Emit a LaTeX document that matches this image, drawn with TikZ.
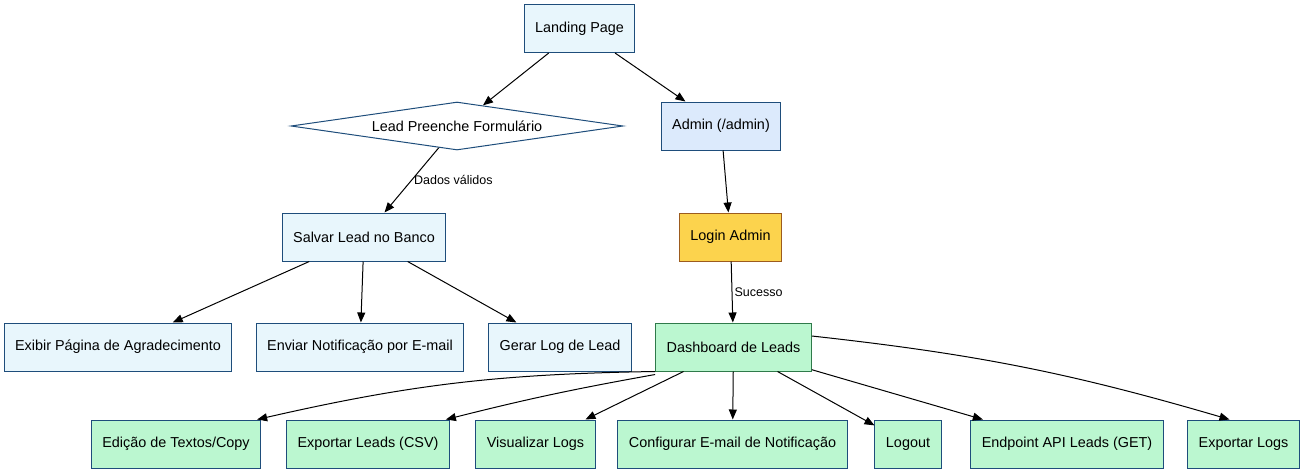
\documentclass[tikz,border=0pt]{standalone}
\usepackage{fontspec}
\setmainfont{Liberation Sans}
\usetikzlibrary{arrows.meta,shapes.geometric}
\definecolor{paleblue}{HTML}{E8F6FC}
\definecolor{adminblue}{HTML}{DCEAFC}
\definecolor{navy}{HTML}{1E4D7B}
\definecolor{loginyellow}{HTML}{FCD34D}
\definecolor{loginbrown}{HTML}{9C5B1E}
\definecolor{mint}{HTML}{BBF7D0}
\definecolor{darkmint}{HTML}{2F7A4A}
\tikzset{
  box/.style={draw=navy,fill=paleblue,line width=1pt,inner xsep=11pt,minimum height=48pt,minimum width=54pt,font=\fontsize{14.4pt}{16pt}\selectfont},
  choice/.style={diamond,draw=navy,fill=white,line width=1pt,aspect=6.9,inner sep=0pt,minimum width=332pt,minimum height=48pt,font=\fontsize{14.4pt}{16pt}\selectfont},
  action/.style={box,fill=mint},
  edge/.style={-{Triangle[length=10pt,width=8pt]},line width=1pt},
  lbl/.style={font=\fontsize{12.5pt}{14pt}\selectfont,inner sep=2pt}
}
\begin{document}
\begin{tikzpicture}[x=1pt,y=-1pt]
  \useasboundingbox (0,0) rectangle (1305,475);
  %% visitor side
  \node[box] (landing) at (579.5,28.5) {Landing Page};
  \node[choice] (form) at (457,126) {Lead Preenche Formulário};
  \node[box] (save) at (364,237) {Salvar Lead no Banco};
  \node[box] (thanks) at (118,347) {Exibir Página de Agradecimento};
  \node[box] (notify) at (360,347) {Enviar Notificação por E-mail};
  \node[box] (leadlog) at (560,347) {Gerar Log de Lead};
  %% admin side
  \node[box,fill=adminblue] (admin) at (721,126) {Admin (/admin)};
  \node[box,fill=loginyellow,draw=loginbrown] (login) at (730.5,237) {Login Admin};
  \node[action,draw=darkmint] (dash) at (733.5,347) {Dashboard de Leads};
  %% dashboard actions
  \node[action] (edit) at (176,444) {Edição de Textos/Copy};
  \node[action] (csv) at (368,444) {Exportar Leads (CSV)};
  \node[action] (viewlog) at (535.5,444) {Visualizar Logs};
  \node[action] (mailcfg) at (732.5,444) {Configurar E-mail de Notificação};
  \node[action] (logout) at (908,444) {Logout};
  \node[action] (api) at (1067,444) {Endpoint API Leads (GET)};
  \node[action] (explog) at (1243.5,444) {Exportar Logs};
  %% connectors
  \draw[edge] (landing) -- (form);
  \draw[edge] (landing) -- (admin);
  \draw[edge] (form) -- node[lbl,right] {Dados válidos} (save);
  \draw[edge] (save) -- (thanks);
  \draw[edge] (save) -- (notify);
  \draw[edge] (save) -- (leadlog);
  \draw[edge] (admin) -- (login);
  \draw[edge] (login) -- node[lbl,right] {Sucesso} (dash);
  \draw[edge] (dash.south west) to[bend right=6] ([xshift=-4pt]edit.north east);
  \draw[edge] ([yshift=-3pt]dash.south west) to[bend right=2] ([xshift=-4pt]csv.north east);
  \draw[edge] (dash) -- (viewlog);
  \draw[edge] (dash) -- (mailcfg);
  \draw[edge] (dash) -- (logout);
  \draw[edge] (dash) -- (api);
  \draw[edge] ([yshift=11pt]dash.east) to[bend left=5] ([xshift=-14pt]explog.north);
\end{tikzpicture}
\end{document}
